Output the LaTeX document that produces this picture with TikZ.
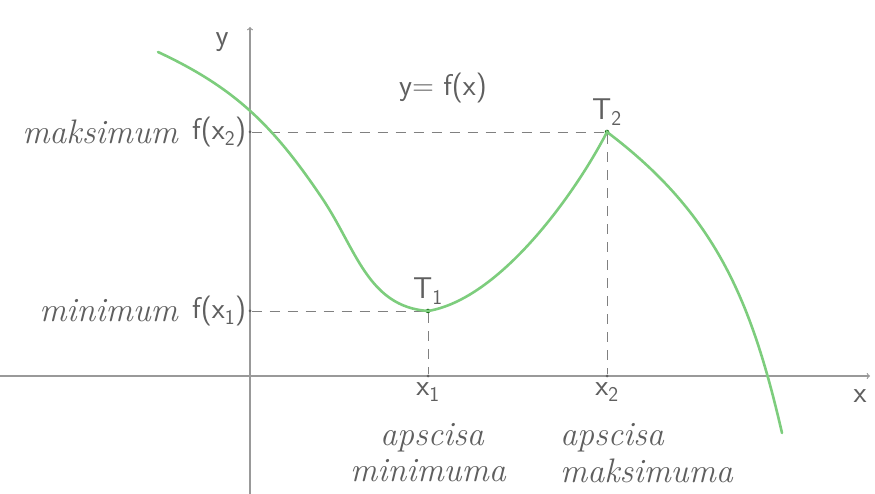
\documentclass[tikz,border=0pt]{standalone}
\usepackage{amsmath}
\usepackage{xcolor}
\usetikzlibrary{arrows}
\usetikzlibrary{positioning}
\usetikzlibrary{calc}
\definecolor{curvegreen}{RGB}{125,205,125}
\definecolor{pencil}{RGB}{95,95,95}

\begin{document}
\begin{tikzpicture}[x=1pt,y=1pt]
			\tikzstyle{every node}=[inner sep=1pt]
			\tikzstyle{axdot}=[circle,fill=pencil,minimum size=3pt,inner sep=0pt]
			\tikzstyle{tdot}=[circle,fill=green!35!black,minimum size=4.5pt,inner sep=0pt]
			\tikzstyle{cursive}=[font=\fontsize{34}{36}\selectfont\itshape,text=pencil]
			\tikzstyle{hand}=[font=\sffamily\fontsize{30}{32}\selectfont,text=pencil]

			\useasboundingbox (0,0) rectangle (875,494);

			% axes
			\coordinate (xl) at (0,118);
			\coordinate (xr) at (870,118);
			\coordinate (yb) at (250,0);
			\coordinate (yt) at (250,467);
			\draw[->,>=to,black!40,line width=1.2pt] (xl) -- (xr);
			\draw[->,>=to,black!40,line width=1.2pt] (yb) -- (yt);
			\node (ylab) [hand] at (222,452) {y};
			\node (xlab) [hand] at (860,98) {x};

			\node (T1) [tdot] at (428,183) {};
			\node (T2) [tdot] at (607,362) {};
			\node (y1) [axdot] at (250,183) {};
			\node (y2) [axdot] at (250,362) {};
			\node (x1) [axdot] at (428,118) {};
			\node (x2) [axdot] at (607,118) {};
			\coordinate (start) at (158,442);
			\coordinate (end) at (782,61);

			\path[-,black!50,line width=0.9pt,dash pattern=on 10pt off 8pt]
			(y2) edge (T2)
			(y1) edge (T1)
			(T1) edge (x1)
			(T2) edge (x2);

			% curve
			\draw[curvegreen,line width=2.6pt,line cap=round]
			(start) to[out=-25,in=124] (322,296) to[out=-56,in=176] (T1.center)
			.. controls (500,195) and (575,300) .. (T2.center)
			to[out=-37,in=103] (end);

			\node (T1lab) [hand,above=3pt of T1] {T\textsubscript{1}};
			\node (T2lab) [hand,above=3pt of T2] {T\textsubscript{2}};
			\node (fun) [hand] at (443,406) {y= f(x)};

			\node (fx2) [hand,left=1pt of y2] {f(x\textsubscript{2})};
			\node (fx1) [hand,left=1pt of y1] {f(x\textsubscript{1})};
			\node (maks) [cursive,left=12pt of fx2] {maksimum};
			\node (mini) [cursive,left=12pt of fx1] {minimum};

			\node (x1lab) [hand,below=4pt of x1] {x\textsubscript{1}};
			\node (x2lab) [hand,below=4pt of x2] {x\textsubscript{2}};
			\node (aps1) [cursive] at (432,56) {apscisa};
			\node (min1) [cursive] at (428,23) {minimuma};
			\node (aps2) [cursive,anchor=west] at (559,56) {apscisa};
			\node (maks2) [cursive,anchor=west] at (559,23) {maksimuma};

		\end{tikzpicture}
\end{document}
